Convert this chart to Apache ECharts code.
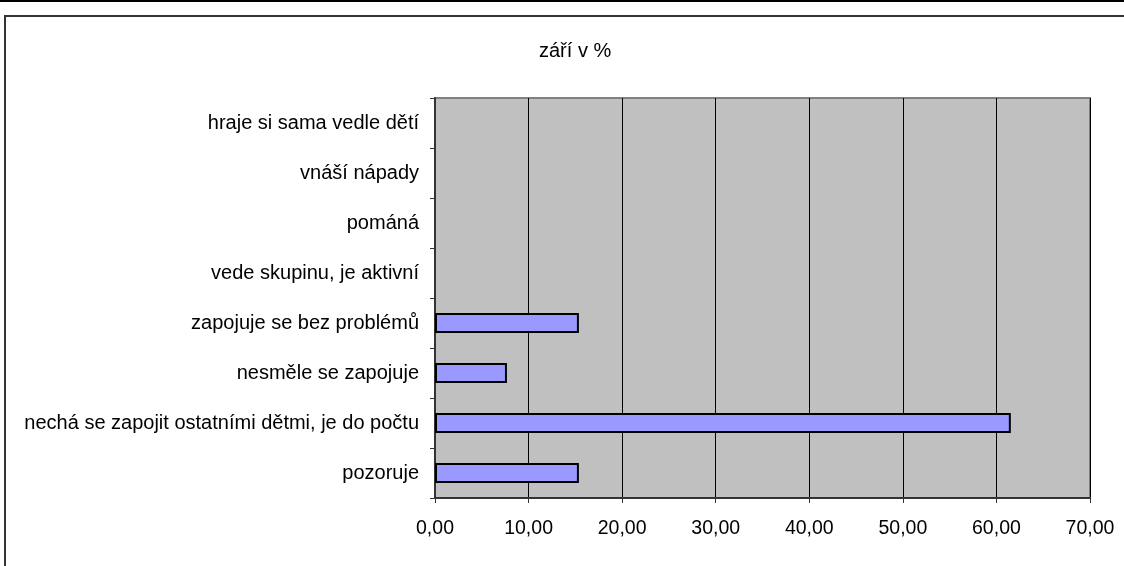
<html lang="cs">
    <head>
        <meta charset="UTF-8">
        <title>září v %</title>
        <script src="https://cdn.jsdelivr.net/npm/echarts@6/dist/echarts.min.js"></script>
        <style>
            html, body { margin: 0; padding: 0; background: #fff; }
        </style>
    </head>
    <body>
        <div id="chart_1" style="width:1124px; height:566px;"></div>
        <script>
            // kategorie odspodu nahoru (jako v Excelu)
            var categories = [
                'pozoruje',
                'nechá se zapojit ostatními dětmi, je do počtu',
                'nesměle se zapojuje',
                'zapojuje se bez problémů',
                'vede skupinu, je aktivní',
                'pománá',
                'vnáší nápady',
                'hraje si sama vedle dětí'
            ];
            var values = [15.38, 61.54, 7.69, 15.38, 0, 0, 0, 0];
            var xTicks = [0, 10, 20, 30, 40, 50, 60, 70];

            let myChart = echarts.init(document.getElementById("chart_1"));

            var font = '"Liberation Sans", Arial, sans-serif';

            // nulové sloupce v Excelu nejsou vidět, tak jim vypneme okraj
            var barData = values.map(function (v) {
                return v === 0 ? { value: v, itemStyle: { borderWidth: 0 } } : v;
            });

            option = {
                animation: false,
                backgroundColor: '#fff',
                title: {
                    text: 'září v %',
                    left: 534,
                    top: 36,
                    textStyle: { fontFamily: font, fontSize: 20, fontWeight: 'normal', color: '#000' }
                },
                graphic: [
                    { type: 'line', shape: { x1: 0, y1: 1, x2: 1124, y2: 1 }, style: { stroke: '#000', lineWidth: 2 } },
                    { type: 'polyline', shape: { points: [[5, 566], [5, 16], [1124, 16]] }, style: { stroke: '#333', lineWidth: 2, fill: null } }
                ],
                grid: {
                    left: 435,
                    right: 34,
                    top: 98,
                    bottom: 68,
                    show: true,
                    backgroundColor: '#C0C0C0',
                    borderColor: '#808080',
                    borderWidth: 2
                },
                xAxis: {
                    type: 'value',
                    min: xTicks[0],
                    max: xTicks[xTicks.length - 1],
                    interval: 10,
                    axisLine: { show: true, onZero: false, lineStyle: { color: '#333', width: 2 } },
                    axisTick: { show: true, length: 5, lineStyle: { color: '#333' } },
                    axisLabel: {
                        margin: 21,
                        fontFamily: font,
                        fontSize: 19.5,
                        color: '#000',
                        formatter: function (v) { return v.toFixed(2).replace('.', ','); }
                    },
                    splitLine: { show: true, lineStyle: { color: '#000', width: 1 } }
                },
                yAxis: {
                    type: 'category',
                    data: categories,
                    axisLine: { show: true, lineStyle: { color: '#333', width: 2 } },
                    axisTick: { show: true, length: 5, lineStyle: { color: '#333' } },
                    axisLabel: { margin: 16, fontFamily: font, fontSize: 20, color: '#000' },
                    splitLine: { show: false }
                },
                series: [{
                    name: 'září v %',
                    type: 'bar',
                    data: barData,
                    barWidth: 20,
                    itemStyle: { color: '#9999FF', borderColor: '#000', borderWidth: 2 }
                }]
            };

            myChart.setOption(option);
        </script>
    </body>
</html>
